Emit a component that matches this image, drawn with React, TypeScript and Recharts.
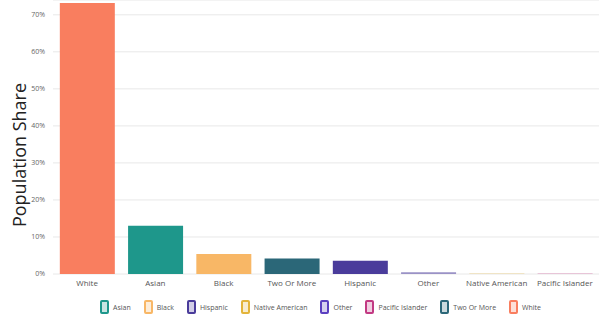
import React from 'react';
import { BarChart, Bar, XAxis, YAxis, CartesianGrid, Legend, Cell } from 'recharts';

const categories = ['White', 'Asian', 'Black', 'Two Or More', 'Hispanic', 'Other', 'Native American', 'Pacific Islander'];
const shares = [0.732, 0.13, 0.054, 0.042, 0.036, 0.005, 0.001, 0.001];
const yTicks = [0, 0.1, 0.2, 0.3, 0.4, 0.5, 0.6, 0.7];

const legendNames = ['Asian', 'Black', 'Hispanic', 'Native American', 'Other', 'Pacific Islander', 'Two Or More', 'White'];

const colors: Record<string, string> = {
  White: '#F97E5F',
  Asian: '#1E978B',
  Black: '#F8B766',
  'Two Or More': '#2B6778',
  Hispanic: '#4A3C9B',
  Other: '#5B3FC0',
  'Native American': '#E3B43A',
  'Pacific Islander': '#C23A83',
};

const data = categories.map((name, i) => ({ name, share: shares[i] }));

const FONT = '"Open Sans", "Noto Sans", sans-serif';

const LegendContent = () => (
  <div
    style={{
      display: 'flex',
      justifyContent: 'center',
      alignItems: 'center',
      paddingTop: 6,
      paddingLeft: 55,
      fontFamily: FONT,
      fontSize: 7,
      color: '#555',
    }}
  >
    {legendNames.map((n) => (
      <div key={n} style={{ display: 'flex', alignItems: 'center', marginRight: 13 }}>
        <svg width={9} height={14} style={{ marginRight: 4 }}>
          <rect x={1} y={1} width={7} height={12} rx={1} fill={colors[n]} fillOpacity={0.25} stroke={colors[n]} strokeWidth={2} />
        </svg>
        <span>{n}</span>
      </div>
    ))}
  </div>
);

const YLabel = (props: any) => {
  const vb = props.viewBox || {};
  const x = 19;
  const y = (vb.y || 0) + (vb.height || 0) / 2 + 18;
  return (
    <text
      x={x}
      y={y}
      transform={`rotate(-90, ${x}, ${y})`}
      textAnchor="middle"
      dominantBaseline="central"
      fontFamily={FONT}
      fontSize={18}
      fill="#222"
    >
      Population Share
    </text>
  );
};

export default function App() {
  return (
    <div style={{ position: 'absolute', left: 0, top: 0, width: 599, height: 329, background: '#fff' }}>
      <BarChart width={599} height={329} data={data} margin={{ top: 0, right: 0, left: 0, bottom: 0 }} barCategoryGap="10%">
        <CartesianGrid vertical={false} stroke="#e8e8e8" />
        <XAxis
          dataKey="name"
          axisLine={false}
          tickLine={false}
          tickSize={0}
          tickMargin={6}
          height={20}
          interval={0}
          tick={{ fontSize: 8, fill: '#555', fontFamily: FONT }}
        />
        <YAxis
          width={53}
          domain={[0, 0.74]}
          ticks={yTicks}
          axisLine={false}
          tickLine={false}
          tickFormatter={(v: number) => `${Math.round(v * 100)}%`}
          tick={{ fontSize: 7, fill: '#666', fontFamily: FONT }}
          label={{ content: YLabel }}
        />
        <Legend verticalAlign="bottom" height={35} content={LegendContent} />
        <Bar dataKey="share" isAnimationActive={false}>
          {data.map((d) => (
            <Cell key={d.name} fill={d.name === 'Other' ? '#9A92C6' : colors[d.name]} />
          ))}
        </Bar>
      </BarChart>
    </div>
  );
}
